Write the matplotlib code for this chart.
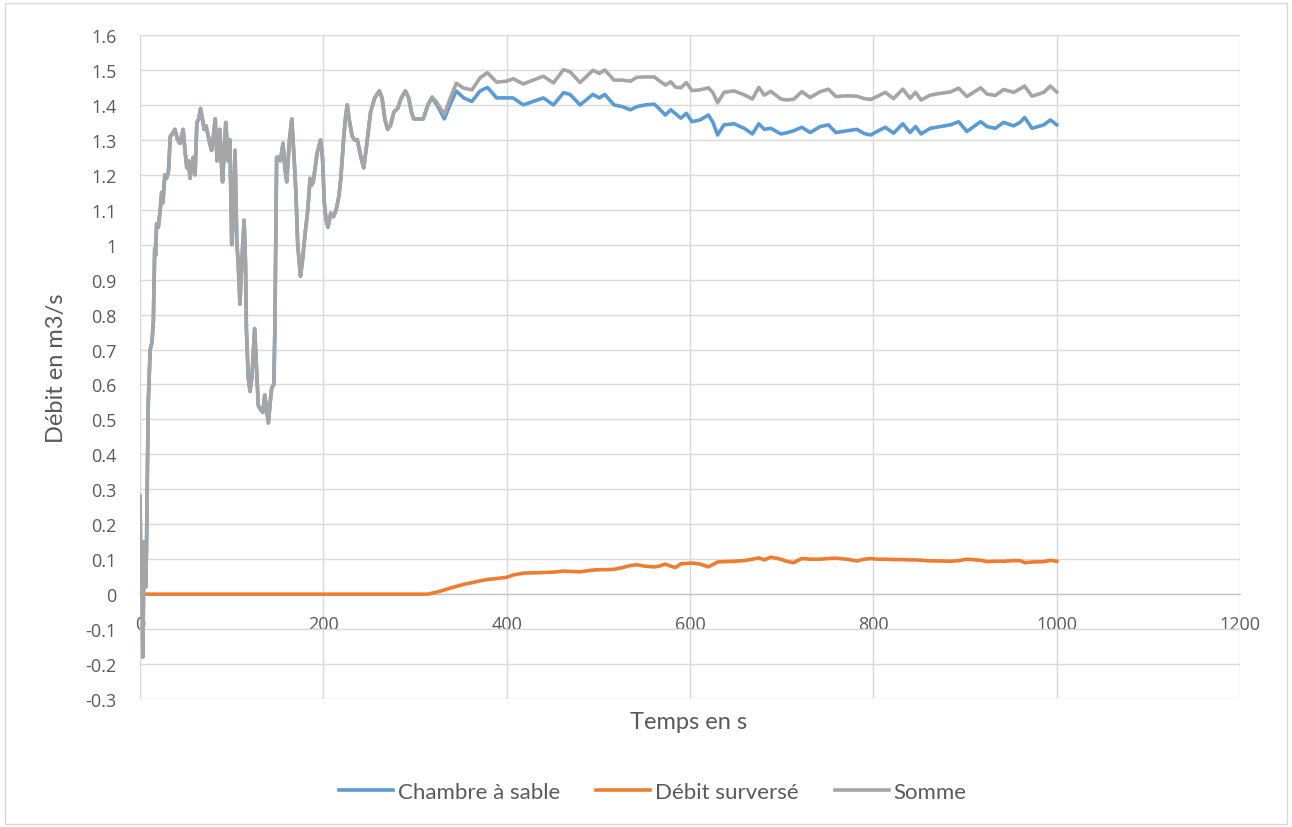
import numpy as np
import matplotlib
matplotlib.use("Agg")
import matplotlib.pyplot as plt
from matplotlib.patches import Rectangle

# --- Data ---
# Early phase: overflow is zero, so Chambre == Somme
t_debut = [0, 1, 2, 3, 4, 5, 6, 7, 8, 9, 11, 13, 14.5, 16, 17, 18, 20, 22, 23.6, 25,
           27, 29, 31, 33, 36, 38, 41, 43.6, 46, 47, 49, 51, 53, 54.5, 56, 58, 60, 62,
           64, 66, 68, 70, 72, 74.5, 76, 78, 80, 82, 84, 86, 87, 89, 90, 92, 93.5, 95,
           96, 98, 100, 102, 103.6, 105.5, 107, 109, 111, 113.5, 115, 116, 118, 120,
           122, 125, 127, 129, 131, 134, 136, 138, 140, 142, 143.6, 146, 147, 149, 151,
           153, 156, 158, 160, 163, 165.5, 168, 170, 172, 175, 177, 180, 183, 185.5,
           187, 189, 191, 193, 195, 197, 199, 201, 203, 205, 208, 211, 214, 217, 219,
           222, 224, 226, 228, 231.5, 234, 237, 241, 244, 247, 251.5, 256, 261, 264,
           267, 270, 273, 277, 281, 285, 289.5, 293, 296, 298.5, 303, 309, 314, 318.5,
           324, 328]
q_debut = [0.28, 0.02, 0.15, -0.18, 0.05, 0.15, 0.02, 0.12, 0.35, 0.55, 0.70, 0.72, 0.78,
           0.99, 0.97, 1.06, 1.05, 1.10, 1.15, 1.12, 1.20, 1.19, 1.21, 1.31, 1.32, 1.33,
           1.30, 1.29, 1.32, 1.33, 1.27, 1.22, 1.24, 1.19, 1.22, 1.25, 1.20, 1.35, 1.36,
           1.39, 1.36, 1.33, 1.34, 1.31, 1.29, 1.27, 1.31, 1.36, 1.24, 1.30, 1.33, 1.22,
           1.18, 1.28, 1.35, 1.29, 1.24, 1.30, 1.00, 1.10, 1.27, 1.01, 0.95, 0.83, 0.95,
           1.07, 0.95, 0.76, 0.62, 0.58, 0.62, 0.76, 0.65, 0.54, 0.53, 0.52, 0.57, 0.53,
           0.49, 0.55, 0.59, 0.60, 0.75, 1.25, 1.25, 1.24, 1.29, 1.22, 1.18, 1.30, 1.36,
           1.25, 1.15, 1.00, 0.91, 0.95, 1.03, 1.10, 1.19, 1.17, 1.18, 1.22, 1.26, 1.28,
           1.30, 1.25, 1.12, 1.07, 1.05, 1.09, 1.08, 1.10, 1.14, 1.19, 1.30, 1.36, 1.40,
           1.36, 1.31, 1.30, 1.30, 1.25, 1.22, 1.28, 1.38, 1.42, 1.44, 1.42, 1.36, 1.33,
           1.34, 1.38, 1.39, 1.42, 1.44, 1.42, 1.38, 1.36, 1.36, 1.36, 1.40, 1.42, 1.40,
           1.38]
surv_debut = [0.0] * (len(t_debut) - 3) + [0.003, 0.006, 0.009]

# Later phase: both series read separately
t_fin = [332, 338, 345, 353, 362, 371, 379, 389, 400, 407, 418, 429, 440, 451, 462, 469,
         480, 494, 501, 507, 517, 526, 535, 542, 551, 561, 566, 573, 579, 584, 590, 596,
         602, 611, 620, 625, 630, 637, 648, 659, 668, 675, 681, 688, 699, 705, 713, 722,
         731, 742, 751, 759, 771, 782, 790, 797, 804, 813, 822, 832, 840, 846, 852, 862,
         873, 884, 893, 902, 917, 924, 933, 942, 953, 960, 965, 973, 986, 993, 1000]
chambre_fin = [1.36, 1.40, 1.44, 1.42, 1.41, 1.44, 1.45, 1.42, 1.42, 1.42, 1.40, 1.41,
               1.42, 1.40, 1.435, 1.43, 1.40, 1.43, 1.42, 1.43, 1.40, 1.395, 1.386, 1.395,
               1.40, 1.402, 1.39, 1.371, 1.386, 1.375, 1.362, 1.376, 1.352, 1.357, 1.371,
               1.35, 1.314, 1.343, 1.346, 1.333, 1.317, 1.346, 1.33, 1.333, 1.317, 1.32,
               1.326, 1.336, 1.321, 1.338, 1.343, 1.321, 1.326, 1.33, 1.318, 1.314, 1.324,
               1.336, 1.319, 1.346, 1.321, 1.338, 1.317, 1.333, 1.338, 1.343, 1.352, 1.324,
               1.352, 1.338, 1.333, 1.35, 1.34, 1.35, 1.364, 1.333, 1.343, 1.357, 1.343]
surv_fin = [0.012, 0.017, 0.022, 0.028, 0.033, 0.038, 0.042, 0.045, 0.048, 0.055, 0.060,
            0.061, 0.062, 0.063, 0.066, 0.065, 0.064, 0.069, 0.070, 0.070, 0.071, 0.076,
            0.082, 0.084, 0.080, 0.078, 0.080, 0.086, 0.080, 0.076, 0.087, 0.088, 0.089,
            0.086, 0.078, 0.085, 0.092, 0.093, 0.094, 0.096, 0.100, 0.104, 0.098, 0.106,
            0.100, 0.094, 0.090, 0.102, 0.100, 0.100, 0.102, 0.103, 0.100, 0.095, 0.100,
            0.102, 0.100, 0.100, 0.099, 0.099, 0.098, 0.098, 0.097, 0.095, 0.095, 0.094,
            0.096, 0.100, 0.097, 0.093, 0.094, 0.094, 0.096, 0.096, 0.090, 0.092, 0.093,
            0.097, 0.094]

temps = np.array(t_debut + t_fin)
chambre = np.array(q_debut + chambre_fin)
surverse = np.array(surv_debut + surv_fin)
somme = chambre + surverse

x_ticks = [0, 200, 400, 600, 800, 1000, 1200]
y_ticks = np.round(np.arange(-0.3, 1.61, 0.1), 1)

BLUE = "#5B9BD5"
ORANGE = "#ED7D31"
GREY = "#A5A5A5"
GRID = "#D9D9D9"
TXT = "#595959"

fig = plt.figure(figsize=(12.92, 8.28), dpi=100)
fig.patches.append(Rectangle((0.004, 0.004), 0.992, 0.991, transform=fig.transFigure,
                             fill=False, edgecolor=GRID, linewidth=1))
ax = fig.add_axes([0.1084, 0.1546, 0.8514, 0.8019])

ax.plot(temps, chambre, color=BLUE, lw=2.6, label="Chambre à sable", zorder=3)
ax.plot(temps, surverse, color=ORANGE, lw=2.6, label="Débit surversé", zorder=3)
ax.plot(temps, somme, color=GREY, lw=2.6, label="Somme", zorder=4)

ax.set_xlim(0, 1200)
ax.set_ylim(-0.3, 1.6)
ax.set_xticks(x_ticks)
ax.set_yticks(y_ticks)
ax.set_yticklabels([f"{v:g}" for v in y_ticks])
ax.grid(True, color=GRID, lw=1)
ax.set_axisbelow(True)

for side in ["top", "right", "left"]:
    ax.spines[side].set_visible(False)
ax.spines["bottom"].set_position(("data", 0))
ax.spines["bottom"].set_color("#BFBFBF")

ax.tick_params(length=0, labelsize=13, labelcolor=TXT)
ax.tick_params(axis="y", pad=17)
ax.tick_params(axis="x", pad=15)
for lab in ax.get_xticklabels() + ax.get_yticklabels():
    lab.set_fontfamily("Open Sans")

fig.text(0.5333, 0.128, "Temps en s", ha="center", va="center",
         fontsize=17, color=TXT, family="Lato")
fig.text(0.0441, 0.5556, "Débit en m3/s", ha="center", va="center", rotation=90,
         fontsize=17, color=TXT, family="Lato")

leg = fig.legend(loc="center", bbox_to_anchor=(0.5054, 0.0423), ncol=3, frameon=False,
                 prop={"family": "Lato", "size": 16}, handlelength=2.43,
                 columnspacing=1.62, handletextpad=0.22)
for txt in leg.get_texts():
    txt.set_color(TXT)

fig.savefig("out.png", dpi=100)
